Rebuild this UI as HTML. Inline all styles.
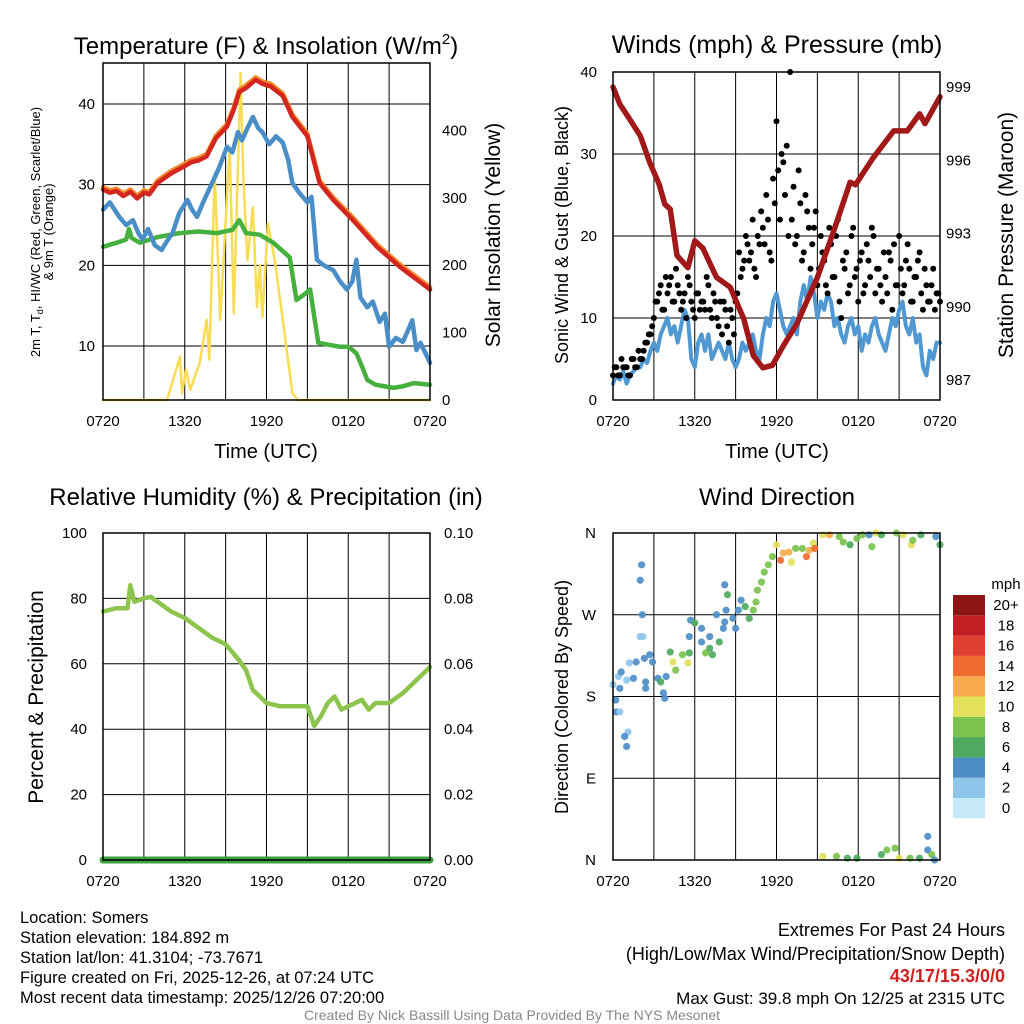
<!DOCTYPE html>
<html><head><meta charset="utf-8"><style>
body{margin:0;background:#fff;}
svg{display:block;font-family:"Liberation Sans",sans-serif;}
</style></head><body>
<svg id="c" width="1024" height="1024" xmlns="http://www.w3.org/2000/svg"></svg>
<script>
const xTickLabels=["0720","1320","1920","0120","0720"];
const tHours=[0,0.5,1,1.5,2,2.5,3,3.4,4,5,5.9,6.5,7,7.6,8.3,9.1,9.6,10,10.5,11.2,11.7,12.3,13.2,13.9,15,15.9,16.9,18.3,20.1,21.8,24];
const tRed=[29.4,29,29.2,28.6,29.1,28.3,29,28.8,30.2,31.4,32.2,32.8,33,33.5,35.8,37.2,39.3,41.5,42,43,42.5,42.2,41,38.4,36,30.2,28.1,25.7,22.3,19.8,17];
const tdHours=[0,0.5,1.2,1.7,2.2,2.6,2.9,3.3,3.8,4.3,4.7,5.1,5.6,6.2,6.5,6.9,7.4,7.9,8.5,9.1,9.5,9.9,10.2,10.6,11,11.4,11.7,12.2,12.7,13.2,13.6,13.9,14.4,15,15.3,15.7,16.2,16.9,17.4,17.9,18.3,18.6,18.9,19.4,19.8,20.3,20.7,21,21.5,22,22.4,22.7,23,23.3,23.7,24];
const tBlue=[26.9,27.8,26,25,25.6,24,23.2,24.5,22.5,21.9,23,24,26.5,28.1,27,26,28,29.8,32,34.7,34,36.5,35.5,37,38.4,37,36.5,35,36,35.2,33,30.2,29,27.8,28.5,20.7,20,19.4,18,17,18,20.7,16,14.8,15.5,13,14,9.9,11,10.5,12,13.2,9.5,10.4,9,7.9];
const gHours=[0,1,1.7,1.9,2.1,2.7,4,5.6,7,8.4,9.5,10,10.5,11.5,12.5,13.7,14.2,14.7,15.2,15.8,17.4,18,18.6,19,19.4,20,21.3,22,22.8,24];
const tGreen=[22.3,22.8,23.2,24.5,23.4,22.8,23.5,24,24.2,24,24.4,25.6,24,23.8,22.8,21,15.7,16.3,17,10.4,9.9,9.9,9.1,7.5,5.8,5.2,4.8,5,5.4,5.2];
const solHours=[0,4.7,5.65,5.8,6.1,6.4,7.1,7.6,7.8,8.2,8.6,9.3,9.6,10.1,10.3,10.6,11,11.3,11.5,11.7,12.1,12.6,13.2,13.9,14.3,24];
const solar=[0,0,64,10,45,15,55,119,60,336,119,375,129,485,331,208,286,138,200,123,262,208,119,10,0,0];
const sonic=[2,3,2.5,3.5,2,3,3.5,4,4,5,4.5,6,7,6,8,9,10,8,9,7,9,11,10,5,4,7,8,6,8,5,6,7,6,5,7,5,4,5,7,6,7,8,6,5,8,10,9,12,13,11,9,8,9,10,8,12,14,12,15,13,10,12,11,13,12,9,10,8,7,9,10,8,9,6,8,7,9,10,8,7,6,8,10,9,11,12,9,8,10,7,8,4,3,6,5,7,7];
const gusts=[3,4,3,4,4,3,5,4,5,6,7,8,10,12,14,11,13,15,12,14,11,13,15,12,10,13,12,11,14,10,12,9,8,11,7,10,12,18,16,20,17,22,15,19,21,25,18,27,34,22,29,31,40,26,20,24,18,23,16,21,14,20,17,13,19,15,22,10,16,13,20,15,12,18,14,17,21,13,16,12,15,18,11,14,20,13,17,16,12,15,18,11,14,12,16,13,12];
const gusts2=[4,3,5,4,3,5,4,6,5,7,8,9,12,13,11,15,14,12,16,13,12,10,14,11,13,11,12,15,11,13,10,12,12,9,11,8,13,15,17,19,18,16,20,23,19,22,17,24,28,30,25,20,22,19,28,17,25,21,19,23,16,18,14,21,15,20,12,17,18,14,21,16,17,13,19,15,20,16,14,18,13,17,19,14,16,14,19,12,15,17,13,16,12,14,11,13];
const presHours=[0,0.5,1.2,2,2.7,3.4,3.8,4.2,4.7,5.5,6,6.6,7.6,8.6,9.6,10.3,11,11.7,12.5,13.5,15,16.2,17.4,17.8,19.1,20.6,21.6,22.5,22.9,24];
const pressure=[999,998.3,997.7,997,995.9,995,994.2,994,992.1,991.6,992.7,992.4,991.2,990.8,989.5,988,987.5,987.6,988.4,989.3,991.2,993.1,995.1,995,996.1,997.2,997.2,997.9,997.5,998.6];
const rhHours=[0,1,1.8,2,2.3,3,3.5,4,5,6,7,8,9,10,10.5,11,12,13,14,15,15.5,16,16.5,17,17.5,18,19,19.5,20,21,22,23,24];
const rh=[76,77,77,84,79,80,80.5,79,76,74,71,68,66,61,58,52,48,47,47,47,41,44,48,50,46,47,49,46,48,48,51,55,59];
const dirHours=[0,0.4,0.6,0.5,0.2,0.25,0.5,1.1,0.85,1,1.2,1.7,1.5,1,2.1,2,2.15,2,2.2,2.3,2.7,2.9,2.4,2.4,3.3,3.5,3.7,3.8,3.9,4.2,4.4,4.6,5.1,5.5,5.6,5.6,5.7,6,6.5,6.5,6.8,7.1,7.3,7.1,7.6,7.8,8.1,8.2,8.3,8.2,8.4,8.8,9,9.2,9.4,9.7,10,10.3,10.5,10.6,10.9,11.1,11.4,11.7,12,12.3,12.5,12.9,13.1,13.4,13.9,14.2,14.4,14.7,14.8,15.4,15.9,16.6,16.9,17.4,17.9,18.3,18.8,19,19.3,19.7,20.8,21.3,21.9,22,22.6,23.7,24,15.4,16.4,17.2,17.9,19.7,20.1,20.7,21,21.8,22.5,23.1,23.1,23.4,23.6];
const dirDeg=[193,202,207,189,176,163,163,141,136,125,217,218,200,198,325,308,270,246,246,222,226,218,196,189,200,196,184,178,202,229,218,209,226,217,228,246,264,261,255,240,228,233,226,246,270,240,255,262,275,303,292,266,255,275,286,279,266,275,284,297,306,317,325,334,347,330,338,339,328,343,343,334,341,349,343,358,358,356,350,347,354,358,358,345,360,358,360,358,347,352,358,356,347,4,4,2,2,6,11,13,2,2,2,26,11,6,0];
const dirSpeed=[2,1,3,3,4,3,2,1,3,3,1,3,3,2,3,3,3,2,2,3,4,4,3,3,4,6,4,3,3,6,10,8,8,10,6,4,4,6,4,4,8,6,6,4,4,6,4,4,4,4,6,4,4,4,4,6,6,8,8,8,8,8,8,8,10,14,12,12,10,8,8,14,12,10,14,10,12,8,8,6,8,8,4,8,10,6,8,10,10,8,6,4,6,10,8,6,6,6,8,8,10,8,6,4,4,8,4];
const cbLabels=["0","2","4","6","8","10","12","14","16","18","20+"];
const cbColors=["#c6e9f9","#8ec5ea","#4e8ec8","#4eaa5f","#7bc24e","#e3e05a","#f7aa4a","#ee6a2f","#e0402f","#c21f24","#8e1515"];

const S=document.getElementById('c');const NS="http://www.w3.org/2000/svg";
function mk(tag,at,name,txt){const e=document.createElementNS(NS,tag);for(const k in at)e.setAttribute(k,at[k]);


if(txt!==undefined)e.textContent=txt;S.appendChild(e);return e;}
function lin(d0,d1,r0,r1){return v=>r0+(v-d0)/(d1-d0)*(r1-r0);}
function txt(x,y,s,size,name,anchor,extra){const a=Object.assign({x:x,y:y,'font-size':size,'text-anchor':anchor||'middle',fill:'#000'},extra||{});return mk('text',a,name,s);}
function vtxt(x,y,s,size,name){return mk('text',{x:0,y:0,'font-size':size,'text-anchor':'middle',transform:`translate(${x},${y}) rotate(-90)`},name,s);}
function path(xs,ys,fx,fy,col,w,name){let d=xs.map((h,i)=>(i?'L':'M')+fx(h).toFixed(1)+','+fy(ys[i]).toFixed(1)).join('');mk('path',{d:d,fill:'none',stroke:col,'stroke-width':w,'stroke-linejoin':'round','stroke-linecap':'round'},name);}
function frame(x0,y0,x1,y1,name,hgrid){
 for(let i=1;i<8;i++){const x=x0+(x1-x0)*i/8;mk('line',{x1:x,y1:y0,x2:x,y2:y1,stroke:'#000','stroke-width':1},name+'-vgrid');}
 hgrid.forEach(y=>mk('line',{x1:x0,y1:y,x2:x1,y2:y,stroke:'#000','stroke-width':1},name+'-hgrid'));
 xTickLabels.forEach((l,i)=>txt(x0+(x1-x0)*i/4,y1+26,l,15,'x-tick-label'));
}
function border(x0,y0,x1,y1,name){mk('rect',{x:x0,y:y0,width:x1-x0,height:y1-y0,fill:'none',stroke:'#000','stroke-width':1.5},name);}

// Panel 1
{const x0=103,x1=430,y0=63,y1=400;const fx=lin(0,24,x0,x1),fy=lin(10,40,346,104),fs=lin(0,500,400,63);
frame(x0,y0,x1,y1,'temp',[10,20,30,40].map(fy));
path(solHours,solar,fx,fs,'#f7dc55',2.5,'solar-line');
path(gHours,tGreen,fx,fy,'#46b03e',4.5,'green-line');
path(tdHours,tBlue,fx,fy,'#4a8ec8',4.5,'blue-line');
path(tHours,tRed.map(v=>v+0.3),fx,fy,'#f08a2a',4.5,'orange-line');
path(tHours,tRed,fx,fy,'#d4261f',4.5,'red-line');
border(x0,y0,x1,y1,'temp-plot-frame');
[10,20,30,40].forEach(v=>txt(x0-8,fy(v)+5,v,15,'y-tick-label','end'));
[0,100,200,300,400].forEach(v=>txt(x1+12,fs(v)+5,v,15,'y2-tick-label','start'));
mk('text',{x:266,y:54,'font-size':24,'text-anchor':'middle'},'temp-title').innerHTML='Temperature (F) &amp; Insolation (W/m<tspan font-size="15" dy="-10">2</tspan><tspan dy="10">)</tspan>';
txt(266,458,'Time (UTC)',20,'x-axis-title');
const t=mk('text',{x:0,y:0,'font-size':13,'text-anchor':'middle',transform:'translate(40,232) rotate(-90)'},'temp-y-axis-title');
t.innerHTML='2m T, T<tspan font-size="9" dy="3">d</tspan><tspan dy="-3">, HI/WC (Red, Green, Scarlet/Blue)</tspan><tspan x="0" dy="13">&amp; 9m T (Orange)</tspan>';
vtxt(500,235,'Solar Insolation (Yellow)',21,'solar-axis-title');}

// Panel 2
{const x0=613,x1=940,y0=72,y1=400;const fx=lin(0,24,x0,x1),fy=lin(0,40,400,72),fp=lin(987,999,380,87);
frame(x0,y0,x1,y1,'wind',[10,20,30].map(fy));
path(sonic.map((v,i)=>i*0.25),sonic,fx,fy,'#4f98d2',4,'sonic-wind-line');
gusts.forEach((g,i)=>mk('circle',{cx:fx(i*0.25),cy:fy(g),r:3,fill:'#000'},'gust-dot'));
gusts2.forEach((g,i)=>mk('circle',{cx:fx(i*0.25+0.125),cy:fy(g),r:3,fill:'#000'},'gust-dot'));
path(presHours,pressure,fx,fp,'#a01818',5.5,'pressure-line');
border(x0,y0,x1,y1,'wind-plot-frame');
[0,10,20,30,40].forEach(v=>txt(x0-16,fy(v)+5,v,15,'y-tick-label','end'));
[987,990,993,996,999].forEach(v=>txt(x1+6,fp(v)+5,v,15,'y2-tick-label','start'));
txt(777,53,'Winds (mph) & Pressure (mb)',25,'wind-title');
txt(777,458,'Time (UTC)',20,'x-axis-title');
vtxt(568,235,'Sonic Wind & Gust (Blue, Black)',18,'wind-y-axis-title');
vtxt(1013,235,'Station Pressure (Maroon)',21,'pressure-axis-title');}

// Panel 3
{const x0=103,x1=430,y0=533,y1=860;const fx=lin(0,24,x0,x1),fy=lin(0,100,860,533),fq=lin(0,0.1,860,533);
frame(x0,y0,x1,y1,'rh',[20,40,60,80].map(fy));
path(rhHours,rh,fx,fy,'#8dc44e',4.5,'rh-line');
path([0,24],[0,0],fx,fq,'#3fa040',7,'precip-line');
border(x0,y0,x1,y1,'rh-plot-frame');
[0,20,40,60,80,100].forEach(v=>txt(x0-16,fy(v)+5,v,15,'y-tick-label','end'));
[0,0.02,0.04,0.06,0.08,0.1].forEach(v=>txt(x1+14,fq(v)+5,v.toFixed(2),15,'y2-tick-label','start'));
txt(266,505,'Relative Humidity (%) & Precipitation (in)',24,'rh-title');
vtxt(43,697,'Percent & Precipitation',21,'rh-y-axis-title');}

// Panel 4
{const x0=613,x1=940,y0=533,y1=860;const fx=lin(0,24,x0,x1),fy=lin(0,360,860,533);
frame(x0,y0,x1,y1,'dir',[90,180,270].map(fy));
dirHours.forEach((h,i)=>{const c=cbColors[Math.min(10,Math.round(dirSpeed[i]/2))];
 mk('circle',{cx:fx(h),cy:fy(dirDeg[i]),r:3.6,fill:c,'fill-opacity':0.92},'direction-dot');});
border(x0,y0,x1,y1,'dir-plot-frame');
["N","E","S","W","N"].forEach((l,i)=>txt(x0-17,fy(i*90)+5,l,15,'y-tick-label','end'));
txt(777,505,'Wind Direction',24,'dir-title');
vtxt(568,697,'Direction (Colored By Speed)',18,'dir-y-axis-title');
txt(1006,589,'mph',15,'colorbar-title');
cbColors.forEach((c,i)=>{const y=798-i*20.3;mk('rect',{x:953,y:y,width:32,height:20.3,fill:c},'colorbar-box');
 txt(1006,y+15,cbLabels[i],15,'colorbar-label');});}

// Footer
["Location: Somers","Station elevation: 184.892 m","Station lat/lon: 41.3104; -73.7671","Figure created on Fri, 2025-12-26, at 07:24 UTC","Most recent data timestamp: 2025/12/26 07:20:00"].forEach((s,i)=>txt(20,923+i*20,s,16.5,'station-info-line','start'));
txt(1005,936,'Extremes For Past 24 Hours',18,'extremes-title','end');
txt(1005,960,'(High/Low/Max Wind/Precipitation/Snow Depth)',18,'extremes-subtitle','end');
txt(1005,982,'43/17/15.3/0/0',18,'extremes-values','end',{fill:'#d02020','font-weight':'bold'});
txt(1005,1004,'Max Gust: 39.8 mph On 12/25 at 2315 UTC',17,'max-gust','end');
txt(512,1020,'Created By Nick Bassill Using Data Provided By The NYS Mesonet',14,'credits','middle',{fill:'#888'});
</script>
</body></html>
